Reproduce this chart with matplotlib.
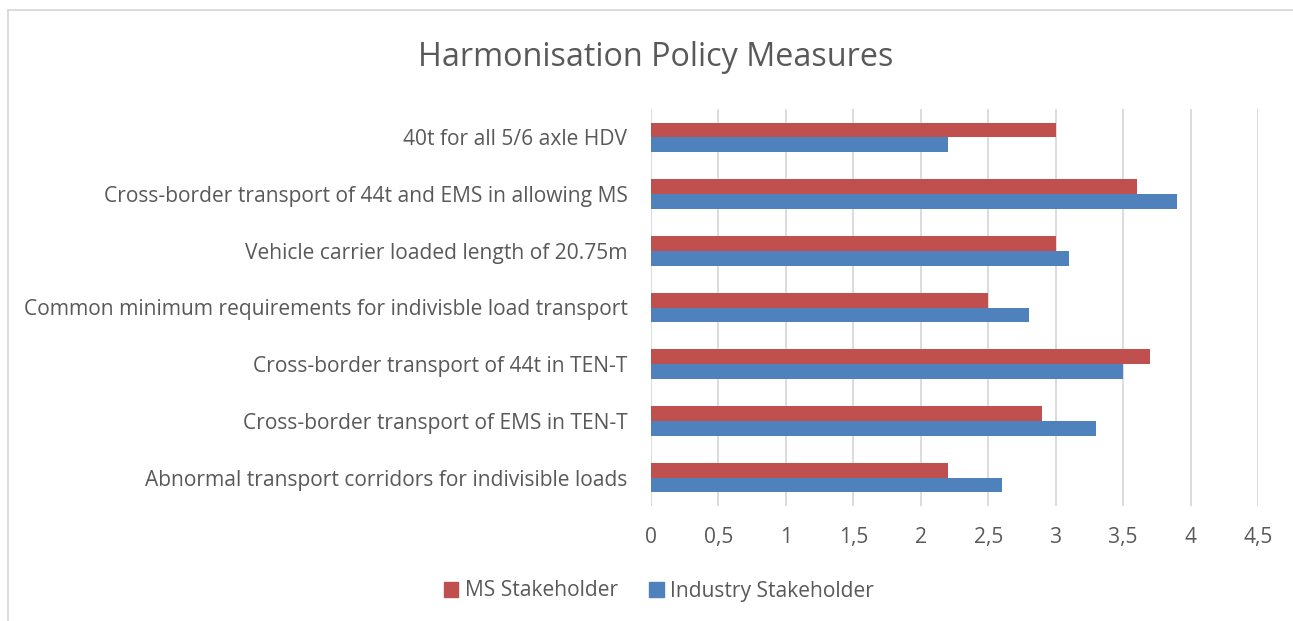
import matplotlib
matplotlib.use("Agg")
import matplotlib.pyplot as plt
from matplotlib.lines import Line2D
from matplotlib.patches import Patch
import numpy as np

categories = [
    "40t for all 5/6 axle HDV",
    "Cross-border transport of 44t and EMS in allowing MS",
    "Vehicle carrier loaded length of 20.75m",
    "Common minimum requirements for indivisble load transport",
    "Cross-border transport of 44t in TEN-T",
    "Cross-border transport of EMS in TEN-T",
    "Abnormal transport corridors for indivisible loads",
]
ms_values = [3.0, 3.6, 3.0, 2.5, 3.7, 2.9, 2.2]
industry_values = [2.2, 3.9, 3.1, 2.8, 3.5, 3.3, 2.6]
x_ticks = [0, 0.5, 1, 1.5, 2, 2.5, 3, 3.5, 4, 4.5]
x_tick_labels = ["0", "0,5", "1", "1,5", "2", "2,5", "3", "3,5", "4", "4,5"]
series_names = ["MS Stakeholder", "Industry Stakeholder"]

RED = "#C0504D"
BLUE = "#4F81BD"
TXT = "#595959"
FONT = ["Open Sans", "DejaVu Sans"]
plt.rcParams['font.family'] = FONT

W, H = 1293, 621
fig = plt.figure(figsize=(W/100, H/100), dpi=100)
ax = fig.add_axes([651/W, 1 - 506/H, (1258-651)/W, (506-109)/H])

n = len(categories)
y = np.arange(n)
h = 0.26
ax.barh(y - h/2, ms_values, height=h, color=RED, label=series_names[0])
ax.barh(y + h/2, industry_values, height=h, color=BLUE, label=series_names[1])
ax.set_ylim(n - 0.5, -0.5)
ax.set_xlim(0, 4.5)
ax.set_yticks(y)
ax.set_yticklabels(categories, fontsize=15.1, color=TXT)
ax.set_xticks(x_ticks)
ax.set_xticklabels(x_tick_labels, fontsize=15.1, color=TXT)
ax.tick_params(axis='both', length=0)
ax.tick_params(axis='y', pad=17)
ax.tick_params(axis='x', pad=15)
ax.grid(axis='x', color="#D9D9D9", linewidth=1.3)
ax.set_axisbelow(True)
for s in ax.spines.values():
    s.set_visible(False)

fig.text(656/W, 1 - 57/H, "Harmonisation Policy Measures", ha='center', va='center',
         fontsize=23.3, color=TXT)

handles = [Patch(color=RED), Patch(color=BLUE)]
fig.legend(handles, series_names, loc='center', bbox_to_anchor=(659/W, 1 - 591/H),
           ncol=2, frameon=False, fontsize=15.1, labelcolor=TXT,
           handlelength=0.7, handleheight=0.7, handletextpad=0.3, columnspacing=1.5)

fig.add_artist(Line2D([8/W, 8/W], [0, 1 - 10/H], color="#D9D9D9", linewidth=1.3))
fig.add_artist(Line2D([8/W, 1], [1 - 10/H, 1 - 10/H], color="#D9D9D9", linewidth=1.3))

fig.savefig("out.png", dpi=100)
